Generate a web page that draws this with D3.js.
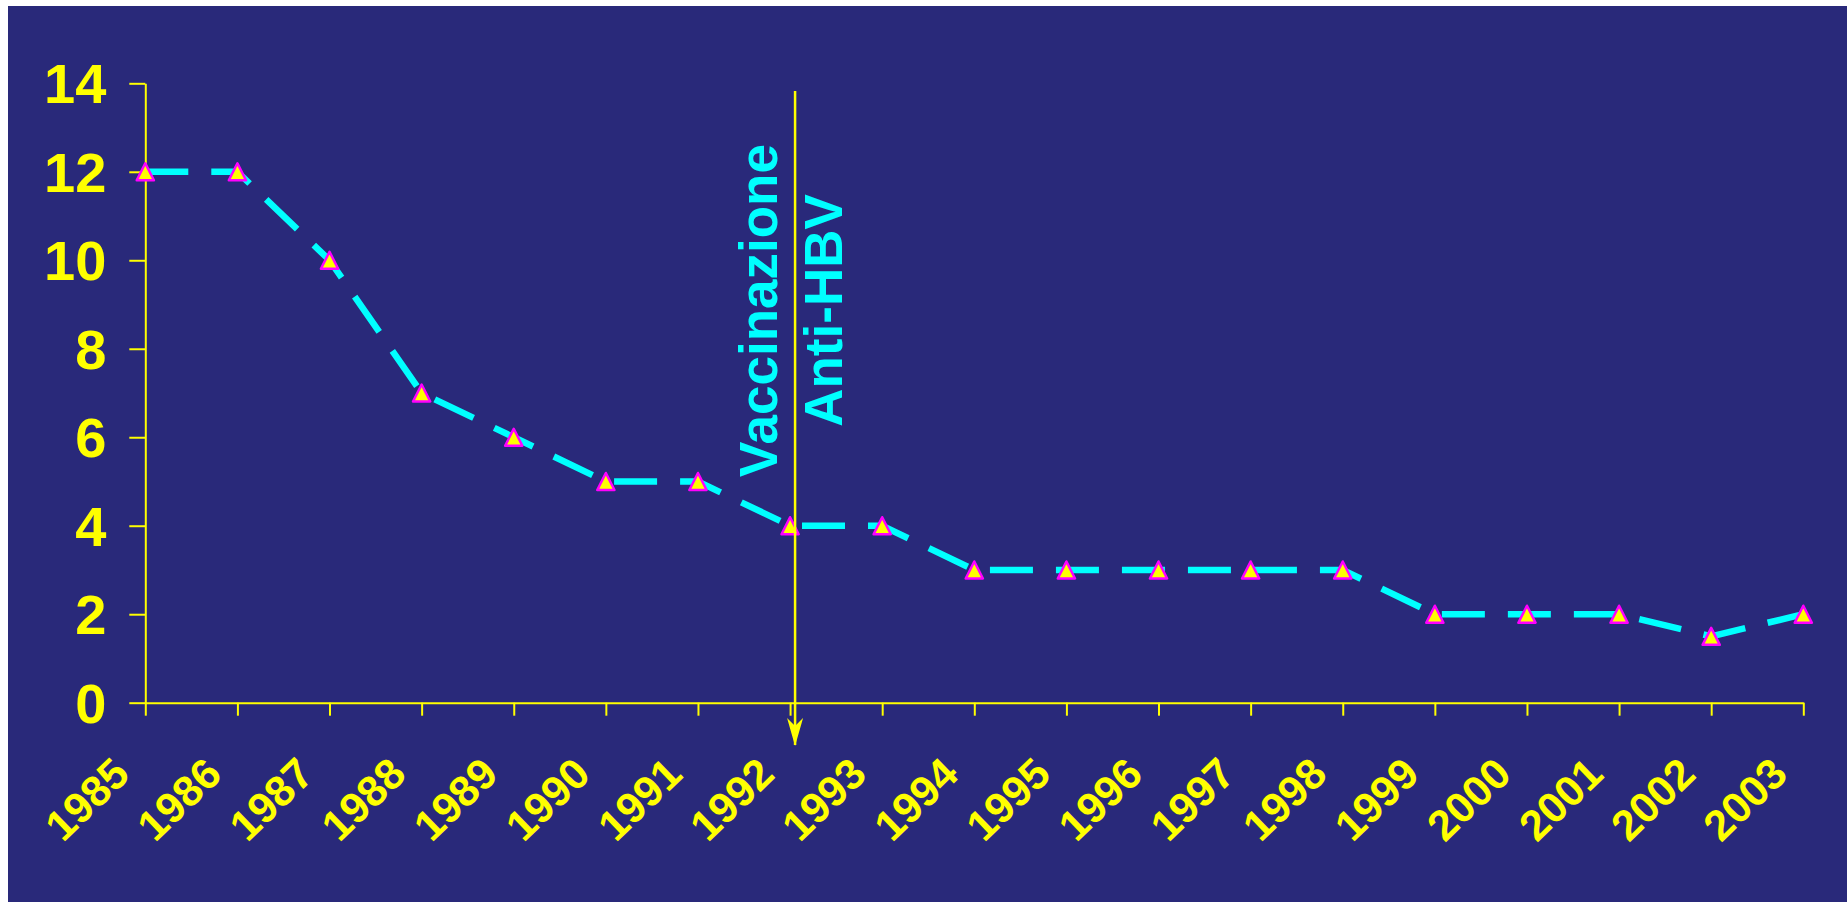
<!DOCTYPE html>
<html>
<head>
<meta charset="utf-8">
<script src="https://cdn.jsdelivr.net/npm/d3@7/dist/d3.min.js"></script>
<style>
  html, body { margin: 0; padding: 0; background: #ffffff; }
  svg { display: block; }
  text { font-family: "Liberation Sans", Arial, sans-serif; font-weight: bold; }
</style>
</head>
<body>
<svg id="chart" width="1847" height="902"></svg>
<script>
// Yearly values
const years = [1985, 1986, 1987, 1988, 1989, 1990, 1991, 1992, 1993, 1994,
               1995, 1996, 1997, 1998, 1999, 2000, 2001, 2002, 2003];
const values = [12, 12, 10, 7, 6, 5, 5, 4, 4, 3,
                3, 3, 3, 3, 2, 2, 2, 1.5, 2];
const yTicks = [0, 2, 4, 6, 8, 10, 12, 14];
const eventYear = 1992;
const eventLines = ["Vaccinazione", "Anti-HBV"];

const W = 1847, H = 902;
const svg = d3.select("#chart");

const bg = "#29297a";
const yellow = "#ffff00";
const cyan = "#00ffff";
const magenta = "#ff00ff";

// panel background
svg.append("rect")
  .attr("x", 8).attr("y", 6)
  .attr("width", W - 8).attr("height", H - 6)
  .attr("fill", bg);

const x = d3.scaleLinear().domain([1985, 2003]).range([145.3, 1803.3]);
const y = d3.scaleLinear().domain([0, 14]).range([702.7, 83.3]);

// y axis
const yAxis = svg.append("g")
  .attr("transform", `translate(${x(1985)},0)`)
  .call(d3.axisLeft(y).tickValues(yTicks).tickSize(16).tickPadding(23).tickSizeOuter(0));
yAxis.select(".domain").attr("stroke", yellow).attr("stroke-width", 2);
yAxis.selectAll(".tick line").attr("stroke", yellow).attr("stroke-width", 2);
yAxis.selectAll(".tick text")
  .attr("fill", yellow)
  .style("font-size", "56px")
  .attr("dy", "0.35em");

// x axis
const xAxis = svg.append("g")
  .attr("transform", `translate(0,${y(0)})`)
  .call(d3.axisBottom(x).tickValues(years).tickFormat(d3.format("d")).tickSize(13).tickSizeOuter(0));
xAxis.select(".domain").attr("stroke", yellow).attr("stroke-width", 2);
xAxis.selectAll(".tick text")
  .attr("fill", yellow)
  .style("font-size", "43px")
  .attr("text-anchor", "end")
  .attr("x", 0).attr("y", 0).attr("dy", 0)
  .attr("transform", "translate(-14,74) rotate(-44)");
xAxis.selectAll(".tick line").attr("stroke", yellow).attr("stroke-width", 2);

// dashed series line
const series = years.map((yr, i) => ({ year: yr, value: values[i] }));
const line = d3.line().x(d => x(d.year)).y(d => y(d.value));
svg.append("path")
  .datum(series)
  .attr("d", line)
  .attr("fill", "none")
  .attr("stroke", cyan)
  .attr("stroke-width", 6.5)
  .attr("stroke-dasharray", "43 23")
  .attr("stroke-linecap", "butt")
  .attr("stroke-linejoin", "miter");

// triangle markers
svg.append("g").selectAll("path")
  .data(series)
  .join("path")
  .attr("transform", d => `translate(${x(d.year)},${y(d.value) + 0.5})`)
  .attr("d", "M0,-9L8.6,8L-8.6,8Z")
  .attr("fill", yellow)
  .attr("stroke", magenta)
  .attr("stroke-width", 2.5)
  .attr("stroke-linejoin", "round");

// vaccination start marker with arrow
const ex = x(eventYear) + 5;
const defs = svg.append("defs");
defs.append("marker")
  .attr("id", "arrowhead")
  .attr("viewBox", "0 0 16 28")
  .attr("refX", 8).attr("refY", 27)
  .attr("markerWidth", 16).attr("markerHeight", 28)
  .attr("markerUnits", "userSpaceOnUse")
  .attr("orient", "0")
  .append("path")
  .attr("d", "M0,0L8,8L16,0L8,28Z")
  .attr("fill", yellow);
svg.append("line")
  .attr("x1", ex).attr("x2", ex)
  .attr("y1", 91).attr("y2", 745)
  .attr("stroke", yellow)
  .attr("stroke-width", 2.5)
  .attr("marker-end", "url(#arrowhead)");

// vertical annotation text
const baseXs = [777.3, 841.7];
eventLines.forEach((t, i) => {
  svg.append("text")
    .attr("transform", `translate(${baseXs[i]},310.5) rotate(-90)`)
    .attr("text-anchor", "middle")
    .attr("fill", cyan)
    .style("font-size", "53px")
    .text(t);
});
</script>
</body>
</html>
